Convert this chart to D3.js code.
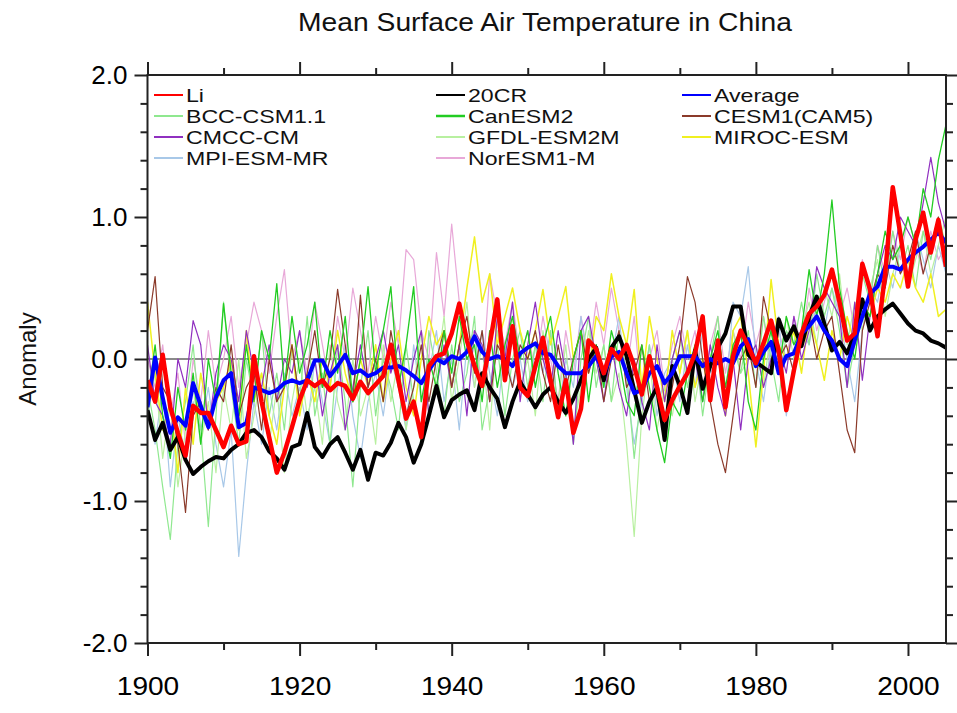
<!DOCTYPE html>
<html>
<head>
<meta charset="utf-8">
<script src="https://cdn.jsdelivr.net/npm/d3@7"></script>
<style>
  html, body { margin: 0; padding: 0; background: #fff; }
  svg { display: block; }
  text { font-family: "Liberation Sans", Arial, Helvetica, sans-serif; }
</style>
</head>
<body>
<svg id="chart" width="957" height="713"></svg>
<script>
// ---------------- DATA ----------------
const years = d3.range(1900, 2006);
const xTicksMajor = [1900, 1920, 1940, 1960, 1980, 2000];
const xTicksMinor = [1910, 1930, 1950, 1970, 1990];
const yTicksMajor = [-2, -1, 0, 1, 2];
const yTickLabels = ["-2.0", "-1.0", "0.0", "1.0", "2.0"];
const yTicksMinor = [-1.8,-1.6,-1.4,-1.2,-0.8,-0.6,-0.4,-0.2,0.2,0.4,0.6,0.8,1.2,1.4,1.6,1.8];

const li = [
 -0.15,-0.30,0.03,-0.34,-0.52,-0.68,-0.33,-0.38,-0.38,-0.50,
 -0.62,-0.47,-0.60,-0.58,0.02,-0.30,-0.55,-0.80,-0.66,-0.48,
 -0.29,-0.15,-0.19,-0.15,-0.22,-0.17,-0.19,-0.28,-0.16,-0.24,
 -0.18,-0.12,0.10,-0.15,-0.42,-0.30,-0.55,-0.05,0.02,0.04,
 0.18,0.39,0.13,-0.05,-0.19,0.10,0.42,-0.15,0.23,-0.20,
 -0.26,-0.05,0.15,-0.15,-0.41,-0.15,-0.52,-0.35,0.13,0.07,
 -0.10,0.07,0.00,0.10,-0.05,-0.25,0.02,-0.20,-0.43,-0.29,
 -0.19,-0.10,0.04,0.30,-0.29,0.13,-0.34,0.02,0.20,0.09,
 -0.03,0.11,0.27,0.06,-0.36,-0.08,0.18,0.32,0.37,0.45,
 0.63,0.40,0.13,0.18,0.67,0.49,0.16,0.60,1.21,0.88,
 0.51,0.84,1.03,0.75,0.98,0.65];

const cr20 = [
 -0.36,-0.57,-0.45,-0.64,-0.55,-0.71,-0.81,-0.76,-0.72,-0.69,
 -0.70,-0.64,-0.60,-0.52,-0.50,-0.55,-0.65,-0.70,-0.78,-0.62,
 -0.60,-0.38,-0.62,-0.69,-0.60,-0.55,-0.66,-0.78,-0.64,-0.85,
 -0.66,-0.68,-0.59,-0.45,-0.55,-0.73,-0.60,-0.40,-0.19,-0.41,
 -0.29,-0.25,-0.22,-0.36,-0.10,-0.20,-0.28,-0.48,-0.30,-0.16,
 -0.25,-0.34,-0.25,-0.20,-0.30,-0.38,-0.28,-0.15,0.00,0.08,
 -0.15,0.08,0.16,0.02,-0.22,-0.45,-0.30,-0.20,-0.57,-0.05,
 -0.19,-0.38,0.06,-0.21,-0.05,0.08,0.18,0.37,0.37,0.03,
 -0.02,-0.06,-0.10,0.28,0.13,0.23,0.09,0.30,0.44,0.25,
 0.06,0.12,0.04,0.18,0.42,0.20,0.30,0.35,0.39,0.32,
 0.25,0.20,0.18,0.13,0.11,0.08];

const average = [
 -0.34,0.01,-0.27,-0.52,-0.41,-0.47,-0.17,-0.33,-0.48,-0.27,
 -0.15,-0.10,-0.48,-0.45,-0.20,-0.22,-0.24,-0.22,-0.17,-0.15,
 -0.17,-0.15,-0.01,-0.01,-0.12,-0.05,0.03,-0.10,-0.08,-0.12,
 -0.10,-0.06,-0.06,-0.05,-0.08,-0.12,-0.17,-0.08,0.00,-0.03,
 0.02,0.00,0.05,0.16,0.05,0.00,0.02,0.00,-0.05,0.04,
 0.08,0.11,0.04,0.03,-0.05,-0.10,-0.10,-0.10,-0.05,0.02,
 -0.10,0.02,0.05,-0.10,-0.24,-0.22,-0.10,-0.05,-0.17,-0.10,
 0.02,0.02,0.02,-0.05,0.00,-0.03,0.00,-0.03,0.09,0.14,
 -0.05,0.05,0.12,-0.10,0.02,0.04,0.18,0.23,0.30,0.20,
 0.13,0.00,-0.05,0.13,0.30,0.46,0.51,0.65,0.65,0.63,
 0.70,0.75,0.79,0.84,0.89,0.82];

const bcc = [
 -0.2,-0.5,-0.9,-1.27,-0.6,-0.3,0.1,-0.5,-1.18,-0.4,
 0.4,-0.2,-0.6,0.0,-0.3,0.2,-0.4,-0.1,-0.5,0.1,
 -0.3,0.3,-0.4,-0.1,-0.6,0.1,-0.3,-0.9,-0.2,0.2,
 -0.4,0.0,-0.2,-0.5,0.1,-0.3,-0.6,0.2,-0.1,-0.4,
 0.1,-0.3,-0.1,0.3,-0.5,-0.2,0.1,-0.4,0.0,0.2,
 -0.2,0.1,-0.3,0.2,-0.4,-0.1,-0.6,0.0,0.3,-0.2,
 0.1,-0.3,0.2,-0.1,-0.7,-0.2,0.1,-0.3,-0.5,0.0,
 0.2,-0.2,0.1,-0.4,0.0,0.3,-0.3,0.1,-0.1,0.2,
 -0.2,0.3,0.0,-0.3,0.2,0.1,0.4,0.1,0.6,0.3,
 0.5,0.2,-0.2,0.1,0.6,0.4,0.8,0.5,0.9,0.6,
 0.8,0.5,0.9,0.7,1.0,0.8];

const canesm2 = [
 -0.3,0.1,-0.4,-0.7,-0.2,-0.5,-0.1,-0.6,0.0,-0.3,
 0.39,-0.1,-0.4,0.1,-0.3,0.2,0.0,0.53,-0.2,0.3,
 -0.1,0.1,0.4,-0.2,0.2,-0.1,0.3,-0.3,0.0,0.51,
 -0.1,0.2,0.51,-0.2,0.1,0.51,-0.3,0.0,-0.2,0.2,
 -0.1,0.3,0.0,0.1,-0.3,0.2,-0.2,0.1,0.3,0.0,
 0.2,-0.2,0.1,0.3,-0.1,-0.4,0.0,0.2,-0.3,0.1,
 -0.2,0.2,0.0,-0.3,-0.4,0.1,-0.2,-0.5,-0.73,-0.3,
 -0.4,-0.1,0.1,-0.3,0.0,0.2,-0.2,0.1,0.2,-0.3,
 -0.5,0.0,0.2,-0.1,0.3,0.1,0.2,0.63,0.3,0.6,
 1.12,0.5,0.2,0.0,0.4,0.3,0.6,0.9,0.7,0.8,
 1.0,0.8,1.2,1.0,1.4,1.65];

const cesm1 = [
 0.2,0.58,-0.2,-0.3,-0.6,-1.08,-0.4,-0.3,-0.5,-0.2,
 -0.3,0.1,-0.4,-0.2,-0.1,-0.5,0.0,-0.3,-0.2,0.1,
 -0.3,-0.1,0.2,-0.2,0.0,0.49,0.1,-0.3,0.45,-0.2,
 0.0,-0.3,0.2,-0.1,-0.4,-0.2,0.1,-0.3,0.0,0.2,
 -0.2,0.1,0.3,-0.1,0.2,-0.3,0.1,0.0,-0.2,0.1,
 0.0,0.2,-0.1,-0.3,0.1,-0.2,0.0,0.2,-0.1,0.1,
 -0.3,0.0,0.2,-0.2,-0.1,0.1,-0.3,-0.2,-0.5,-0.2,
 0.1,0.58,0.4,0.0,-0.3,-0.6,-0.8,-0.4,0.0,0.1,
 -0.2,0.44,0.2,0.0,0.1,-0.1,0.2,0.3,0.0,0.2,
 0.3,-0.1,-0.5,-0.66,0.2,0.4,0.6,0.5,0.8,0.6,
 0.7,0.9,0.6,0.8,1.0,0.7];

const cmcc = [
 0.1,-0.3,-0.4,-0.6,0.0,-0.2,0.27,0.1,-0.5,-0.1,
 0.1,0.0,-0.3,0.2,-0.1,-0.2,0.1,-0.3,0.0,-0.1,
 0.2,-0.2,0.0,-0.4,-0.1,0.1,-0.5,-0.2,0.1,-0.2,
 0.0,0.2,-0.1,0.1,-0.3,0.0,0.2,-0.4,-0.2,0.1,
 -0.2,0.1,-0.4,0.2,0.1,-0.3,0.3,0.0,0.4,-0.3,
 0.1,0.4,0.0,-0.2,0.2,-0.1,-0.6,0.2,0.3,0.0,
 -0.3,0.1,-0.2,-0.4,0.0,-0.3,-0.5,0.1,-0.3,0.0,
 0.2,-0.1,0.0,-0.3,0.1,-0.2,-0.4,0.0,-0.5,0.0,
 0.1,-0.2,0.0,0.1,-0.1,0.3,0.0,0.2,0.65,0.5,
 0.4,0.3,-0.2,0.4,-0.15,0.3,0.6,0.8,0.7,1.0,
 0.9,0.8,1.1,1.42,1.1,0.9];

const gfdl = [
 -0.4,-0.1,-0.7,-0.3,-0.9,-0.5,-0.2,-0.6,-0.3,-0.8,
 -0.2,-0.5,0.0,-0.7,-0.4,-0.1,-0.6,-0.2,-0.8,-0.3,
 0.0,-0.4,-0.2,-0.6,0.1,-0.3,-0.5,0.0,-0.4,-0.2,
 -0.6,0.1,-0.3,0.0,-0.5,-0.2,0.2,-0.4,-0.1,0.3,
 -0.3,0.0,0.4,-0.2,0.1,-0.5,0.2,-0.1,0.3,-0.2,
 0.0,-0.4,0.2,-0.1,-0.3,0.1,-0.5,-0.2,0.2,-0.1,
 0.1,-0.3,-0.1,-0.6,-1.25,-0.4,0.0,-0.5,-0.2,-0.4,
 -0.1,0.2,-0.3,0.0,-0.2,0.1,-0.4,0.2,-0.1,0.0,
 0.1,-0.2,0.2,-0.1,0.3,0.0,0.2,0.4,0.1,0.5,
 0.3,0.6,0.1,0.4,0.2,0.5,0.7,0.3,0.6,0.8,
 0.5,0.7,0.9,0.6,0.8,1.0];

const miroc = [
 0.4,-0.1,-0.5,-0.3,-0.8,-0.2,-0.6,-0.1,-0.4,-0.3,
 -0.2,0.0,-0.5,0.2,-0.3,-0.1,-0.4,-0.6,-0.2,0.1,
 -0.4,-0.1,-0.3,0.0,-0.2,0.2,-0.1,-0.3,0.0,-0.2,
 0.1,-0.3,0.0,0.2,-0.2,-0.4,0.0,0.3,0.1,0.2,
 -0.2,0.1,0.5,0.86,0.4,0.6,0.1,0.3,0.5,0.2,
 0.0,0.2,0.49,0.1,0.3,0.51,0.0,0.2,-0.1,0.3,
 0.2,0.6,0.3,0.1,0.49,-0.2,0.3,0.0,-0.3,0.2,
 -0.1,0.2,-0.2,0.0,-0.3,0.1,-0.4,0.2,0.3,-0.1,
 -0.62,-0.1,0.56,0.1,0.0,0.2,-0.1,0.3,0.1,-0.15,
 0.2,0.0,0.3,0.1,0.4,0.3,0.5,0.4,0.6,0.5,
 0.7,0.5,0.4,0.6,0.3,0.35];

const mpi = [
 -0.3,-0.6,-0.2,-0.9,-0.4,-0.7,-0.3,-0.5,-0.2,-0.6,
 -0.9,-0.5,-1.39,-0.8,-0.3,-0.6,-0.2,-0.5,-0.1,-0.4,
 -0.2,-0.5,0.0,-0.3,-0.6,-0.2,0.1,-0.4,-0.7,-0.3,
 -0.1,-0.4,0.0,-0.2,-0.5,0.1,-0.3,-0.1,0.2,-0.3,
 0.0,-0.5,0.1,-0.2,0.2,-0.1,-0.4,0.1,-0.2,0.0,
 -0.3,0.1,-0.1,0.2,-0.4,0.0,-0.2,0.3,-0.1,0.1,
 -0.2,0.0,0.3,-0.2,-0.6,-0.3,0.1,-0.4,-0.1,0.0,
 -0.3,0.1,-0.2,0.2,-0.1,0.0,-0.3,0.4,0.3,0.65,
 0.0,-0.3,0.1,0.3,-0.4,0.0,0.2,0.1,0.4,0.2,
 0.5,0.3,0.0,-0.3,0.2,0.5,0.4,0.7,0.5,0.8,
 0.6,0.9,0.7,0.5,0.8,0.6];

const noresm = [
 0.0,-0.2,0.1,-0.4,-0.1,-0.6,0.0,-0.3,0.2,-0.2,
 0.0,0.3,-0.2,0.1,0.4,0.2,-0.1,0.3,0.63,0.0,
 0.2,-0.1,0.4,0.1,-0.2,0.3,0.0,0.5,0.2,-0.1,
 0.3,0.0,0.4,0.1,0.77,0.7,0.2,0.0,0.75,0.3,
 0.95,0.4,0.1,0.2,-0.2,0.6,0.3,0.1,0.4,0.0,
 0.2,-0.1,0.3,0.0,-0.3,0.2,-0.1,0.3,0.0,0.4,
 0.1,0.5,0.2,-0.1,0.3,-0.3,0.0,0.2,-0.2,0.1,
 0.3,0.0,0.2,-0.2,0.1,0.3,-0.1,0.2,0.0,0.4,
 0.1,0.3,-0.1,0.2,0.0,0.3,0.1,0.5,0.2,0.4,
 0.6,0.3,0.5,0.2,0.7,0.4,0.8,0.6,0.9,0.7,
 1.0,0.8,0.6,0.9,0.7,0.8];

const seriesNames = ["Li","20CR","Average","BCC-CSM1.1","CanESM2","CESM1(CAM5)",
                     "CMCC-CM","GFDL-ESM2M","MIROC-ESM","MPI-ESM-MR","NorESM1-M"];

// ---------------- STYLES ----------------
const styles = {
  "Li":          {color:"#ff0000", width:4.5, legendW:2},
  "20CR":        {color:"#000000", width:4,   legendW:2},
  "Average":     {color:"#0000ff", width:4,   legendW:2},
  "BCC-CSM1.1":  {color:"#8fe88f", width:1.2, legendW:2},
  "CanESM2":     {color:"#22cc22", width:1.3, legendW:2.5},
  "CESM1(CAM5)": {color:"#8b3a2a", width:1.2, legendW:2},
  "CMCC-CM":     {color:"#9030c0", width:1.2, legendW:2},
  "GFDL-ESM2M":  {color:"#b8f0a0", width:1.2, legendW:2},
  "MIROC-ESM":   {color:"#f0f020", width:1.5, legendW:2},
  "MPI-ESM-MR":  {color:"#a8c8e8", width:1.2, legendW:2},
  "NorESM1-M":   {color:"#e8a8d8", width:1.2, legendW:2}
};
const dataByName = {
  "Li":li, "20CR":cr20, "Average":average, "BCC-CSM1.1":bcc, "CanESM2":canesm2,
  "CESM1(CAM5)":cesm1, "CMCC-CM":cmcc, "GFDL-ESM2M":gfdl, "MIROC-ESM":miroc,
  "MPI-ESM-MR":mpi, "NorESM1-M":noresm
};

// ---------------- CHART ----------------
const svg = d3.select("#chart");
const L = 147.5, R = 946, T = 75, B = 643;
const x = d3.scaleLinear().domain([1900, 2005]).range([L, R]);
const y = d3.scaleLinear().domain([-2, 2]).range([B, T]);

// zero line
svg.append("line")
  .attr("x1", L).attr("x2", R).attr("y1", y(0)).attr("y2", y(0))
  .attr("stroke", "#8a8a8a").attr("stroke-width", 2);

svg.append("clipPath").attr("id","clip")
  .append("rect").attr("x", L).attr("y", T).attr("width", R-L).attr("height", B-T);

const line = d3.line().x((d,i) => x(years[i])).y(d => y(d));
const drawOrder = ["NorESM1-M","MPI-ESM-MR","GFDL-ESM2M","BCC-CSM1.1","MIROC-ESM","CMCC-CM",
                   "CESM1(CAM5)","CanESM2","20CR","Average","Li"];
const g = svg.append("g").attr("clip-path","url(#clip)");
drawOrder.forEach(n => {
  g.append("path").datum(dataByName[n])
    .attr("d", line)
    .attr("fill","none")
    .attr("stroke", styles[n].color)
    .attr("stroke-width", styles[n].width)
    .attr("stroke-linejoin","round");
});

// axes
const axisColor = "#222";
function styleAxis(sel){
  sel.select(".domain").remove();
  sel.selectAll(".tick line").attr("stroke", axisColor).attr("stroke-width", 2);
  sel.selectAll(".tick text").attr("fill","#000").style("font-size","26px")
     .style("font-family",'"Liberation Sans", Arial, Helvetica, sans-serif');
}
const bottomMajor = svg.append("g").attr("transform",`translate(0,${B})`)
  .call(d3.axisBottom(x).tickValues(xTicksMajor).tickFormat(d3.format("d")).tickSize(13).tickPadding(21));
styleAxis(bottomMajor);
bottomMajor.selectAll(".tick text").attr("transform","scale(1.08,1)");
const bottomMinor = svg.append("g").attr("transform",`translate(0,${B})`)
  .call(d3.axisBottom(x).tickValues(xTicksMinor).tickFormat("").tickSize(7));
styleAxis(bottomMinor);
const topMajor = svg.append("g").attr("transform",`translate(0,${T})`)
  .call(d3.axisTop(x).tickValues(xTicksMajor).tickFormat("").tickSize(13));
styleAxis(topMajor);
const topMinor = svg.append("g").attr("transform",`translate(0,${T})`)
  .call(d3.axisTop(x).tickValues(xTicksMinor).tickFormat("").tickSize(7));
styleAxis(topMinor);

const leftMajor = svg.append("g").attr("transform",`translate(${L},0)`)
  .call(d3.axisLeft(y).tickValues(yTicksMajor).tickFormat((d,i) => yTickLabels[i]).tickSize(13).tickPadding(7));
styleAxis(leftMajor);
const leftMinor = svg.append("g").attr("transform",`translate(${L},0)`)
  .call(d3.axisLeft(y).tickValues(yTicksMinor).tickFormat("").tickSize(7));
styleAxis(leftMinor);
const rightMajor = svg.append("g").attr("transform",`translate(${R},0)`)
  .call(d3.axisRight(y).tickValues(yTicksMajor).tickFormat("").tickSize(13));
styleAxis(rightMajor);
const rightMinor = svg.append("g").attr("transform",`translate(${R},0)`)
  .call(d3.axisRight(y).tickValues(yTicksMinor).tickFormat("").tickSize(7));
styleAxis(rightMinor);

// frame
svg.append("rect").attr("x", L).attr("y", T).attr("width", R-L).attr("height", B-T)
  .attr("fill","none").attr("stroke", axisColor).attr("stroke-width", 2);

// title
svg.append("text").attr("transform","translate(545,31) scale(1.13,1)").attr("text-anchor","middle")
  .style("font-size","25px").attr("fill","#111")
  .text("Mean Surface Air Temperature in China");

// y label
svg.append("text").attr("transform","translate(36,359) rotate(-90)")
  .attr("text-anchor","middle").style("font-size","24px").attr("fill","#111")
  .text("Anomaly");

// legend
const legendCols = [154, 436, 682];
const legendRows = [95, 116, 137, 158];
const lg = svg.append("g");
seriesNames.forEach((n, i) => {
  const cx = legendCols[i % 3], cy = legendRows[Math.floor(i / 3)];
  lg.append("line").attr("x1", cx).attr("x2", cx + 29).attr("y1", cy).attr("y2", cy)
    .attr("stroke", styles[n].color).attr("stroke-width", styles[n].legendW);
  lg.append("text").attr("transform", `translate(${cx + 32},${cy + 6.6}) scale(1.25,1)`)
    .style("font-size","18.5px").attr("fill","#111").text(n);
});
</script>
</body>
</html>
